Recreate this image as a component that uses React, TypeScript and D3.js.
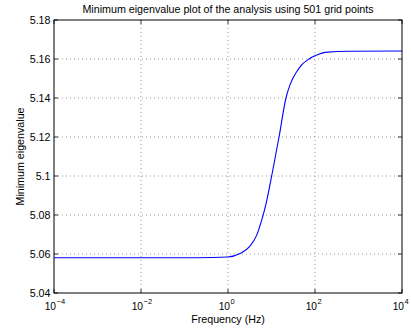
import React from "react";
import * as d3 from "d3";

const freqHz = [1e-4, 0.2, 1, 1.89, 3.2, 4.57, 5.95, 7.36, 10.1, 14.9, 21.5, 26.6, 37.9, 49.5, 72.8, 109, 170, 638, 1e4];
const minEig = [5.0581, 5.0581, 5.0585, 5.0603, 5.064, 5.0697, 5.0774, 5.0851, 5.1, 5.12, 5.14, 5.1467, 5.1535, 5.157, 5.16, 5.162, 5.1634, 5.164, 5.1641];
const xTickExps = [-4, -2, 0, 2, 4];
const yTicks = [5.04, 5.06, 5.08, 5.1, 5.12, 5.14, 5.16, 5.18];
const yTickLabels = ["5.04", "5.06", "5.08", "5.1", "5.12", "5.14", "5.16", "5.18"];
const title = "Minimum eigenvalue plot of the analysis using 501 grid points";
const xLabel = "Frequency (Hz)";
const yLabel = "Minimum eigenvalue";

export default function App() {
  const W = 411, H = 332;
  const L = 54, R = 402, T = 20, B = 293;
  const x = d3.scaleLog().domain([1e-4, 1e4]).range([L, R]);
  const y = d3.scaleLinear().domain([5.04, 5.18]).range([B, T]);
  const pts: [number, number][] = freqHz.map((f, i) => [x(f), y(minEig[i])]);
  const line = d3.line().curve(d3.curveMonotoneX)(pts) || "";
  const font = "'Liberation Sans', Arial, Helvetica, sans-serif";
  const fs = 10.7;
  const gridStyle = { stroke: "#555", strokeWidth: 0.6, strokeDasharray: "1,3" };
  return (
    <svg width={W} height={H} style={{ position: "absolute", left: 0, top: 0, background: "#fff" }} fontFamily={font}>
      <rect x={0} y={0} width={W} height={H} fill="#fff" />
      {xTickExps.slice(1, -1).map((e) => (
        <line key={"gx" + e} x1={x(Math.pow(10, e))} x2={x(Math.pow(10, e))} y1={T} y2={B} {...gridStyle} />
      ))}
      {yTicks.slice(1, -1).map((v) => (
        <line key={"gy" + v} x1={L} x2={R} y1={y(v)} y2={y(v)} {...gridStyle} />
      ))}
      {xTickExps.map((e) => (
        <g key={"tx" + e}>
          <line x1={x(Math.pow(10, e))} x2={x(Math.pow(10, e))} y1={B} y2={B - 4} stroke="#000" strokeWidth={0.8} />
          <line x1={x(Math.pow(10, e))} x2={x(Math.pow(10, e))} y1={T} y2={T + 4} stroke="#000" strokeWidth={0.8} />
          <text x={x(Math.pow(10, e)) + 2} y={310} fontSize={10.2} textAnchor="end">10</text>
          <text x={x(Math.pow(10, e)) + 2.5} y={303.5} fontSize={7.5} textAnchor="start">{e < 0 ? "\u2212" + Math.abs(e) : String(e)}</text>
        </g>
      ))}
      {yTicks.map((v, i) => (
        <g key={"ty" + v}>
          <line x1={L} x2={L + 4} y1={y(v)} y2={y(v)} stroke="#000" strokeWidth={0.8} />
          <line x1={R} x2={R - 4} y1={y(v)} y2={y(v)} stroke="#000" strokeWidth={0.8} />
          <text x={L - 3.5} y={y(v) + 3.8} fontSize={fs} textAnchor="end">{yTickLabels[i]}</text>
        </g>
      ))}
      <path d={line} fill="none" stroke="#0000ff" strokeWidth={1.1} />
      <rect x={L} y={T} width={R - L} height={B - T} fill="none" stroke="#000" strokeWidth={1} />
      <text x={228} y={12.5} fontSize={fs} textAnchor="middle">{title}</text>
      <text x={228} y={323} fontSize={fs} textAnchor="middle">{xLabel}</text>
      <text transform={`translate(24,${(T + B) / 2}) rotate(-90)`} fontSize={fs} textAnchor="middle">{yLabel}</text>
    </svg>
  );
}
